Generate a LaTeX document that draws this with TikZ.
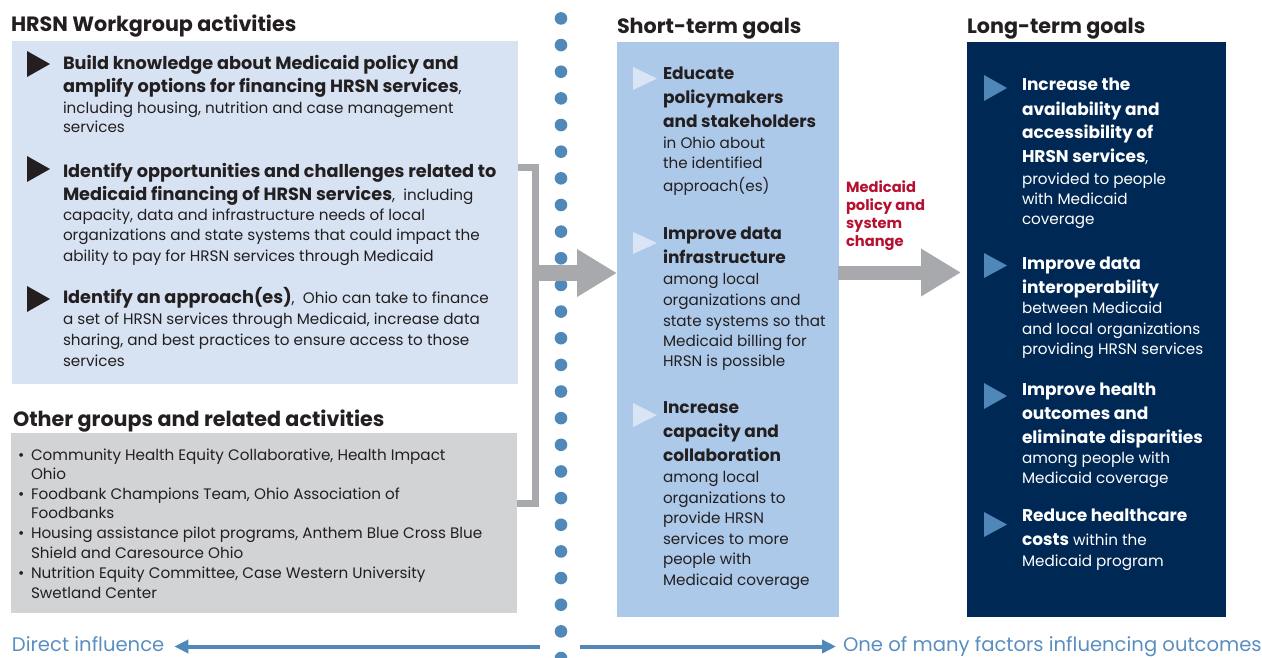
\documentclass[tikz,border=0pt]{standalone}
\usepackage{fontspec}
\setmainfont{Poppins}
\usetikzlibrary{arrows.meta}
\definecolor{ink}{RGB}{35,31,32}
\definecolor{hrsnbg}{RGB}{215,227,243}
\definecolor{othbg}{RGB}{209,211,212}
\definecolor{stbg}{RGB}{173,201,233}
\definecolor{sttri}{RGB}{217,228,244}
\definecolor{navy}{RGB}{0,40,85}
\definecolor{lttri}{RGB}{79,135,185}
\definecolor{dotc}{RGB}{79,136,185}
\definecolor{arrg}{RGB}{167,169,172}
\definecolor{redc}{RGB}{181,18,50}
\definecolor{botc}{RGB}{91,142,192}
\newcommand\rgf{\fontsize{15.2}{17}\selectfont\mdseries}
\newcommand\rg[1]{{\rgf #1}}
\begin{document}
\begin{tikzpicture}[x=1pt,y=-1pt,
  tl/.style={anchor=base west, inner sep=0pt, outer sep=0pt},
  rgl/.style={tl, font=\rgf},
  bdl/.style={tl, font=\fontsize{17}{20}\selectfont\bfseries},
  hbdl/.style={tl, font=\fontsize{17.7}{20}\selectfont\bfseries},
  ttl/.style={tl, font=\fontsize{20.7}{24}\selectfont\bfseries, text=ink},
  redl/.style={tl, font=\fontsize{14.7}{17}\selectfont\bfseries, text=redc},
  botl/.style={tl, font=\fontsize{19.6}{22}\selectfont, text=botc},
  panel/.style={anchor=north west, inner sep=0pt, outer sep=0pt, draw=none},
  bigarr/.style={draw=arrg, line width=16pt, -{Triangle[length=40pt 0 0, width=45pt 0 0]}},
  botarr/.style={draw=dotc, line width=4pt, -{Triangle[length=14pt 0 0, width=13pt 0 0]}},
  bracket/.style={draw=arrg, line width=7pt},
]
\useasboundingbox (0,0) rectangle (1262,657);

% panels
\node[panel, fill=hrsnbg, minimum width=506pt, minimum height=343pt] (hrsn) at (12,41) {};
\node[panel, fill=othbg, minimum width=506pt, minimum height=180pt] (oth) at (11,433) {};
\node[panel, fill=stbg, minimum width=222pt, minimum height=575pt] (st) at (617,42) {};
\node[panel, fill=navy, minimum width=259pt, minimum height=575pt] (lt) at (967,42) {};

% titles
\node[ttl] (t1) at (11,31.5) {HRSN Workgroup activities};
\node[ttl] (t2) at (13,426.5) {Other groups and related activities};
\node[ttl] (t3) at (617,33) {Short-term goals};
\node[ttl] (t4) at (967,33) {Long-term goals};

% dotted divider
\foreach \i in {0,...,24} \fill[dotc] (561,18.4+26.65*\i) circle (6.3);

% HRSN items
\fill[ink] (27,51) -- (50,64) -- (27,77) -- cycle;
\fill[ink] (27,156) -- (50,169) -- (27,182) -- cycle;
\fill[ink] (27,286) -- (50,299) -- (27,312) -- cycle;
\begin{scope}[text=ink]
\node[hbdl] (h1a) at (63,69) {Build knowledge about Medicaid policy and};
\node[hbdl] (h1b) at (63,92.5) {amplify options for financing HRSN services\rg{,}};
\node[rgl] (h1c) at (63,113) {including housing, nutrition and case management};
\node[rgl] (h1d) at (63,132.5) {services};
\node[hbdl] (h2a) at (63,177) {Identify opportunities and challenges related to};
\node[hbdl] (h2b) at (63,200) {Medicaid financing of HRSN services\rg{,~ including}};
\node[rgl] (h2c) at (63,220) {capacity, data and infrastructure needs of local};
\node[rgl] (h2d) at (63,240.5) {organizations and state systems that could impact the};
\node[rgl] (h2e) at (63,261) {ability to pay for HRSN services through Medicaid};
\node[hbdl] (h3a) at (63,303) {Identify an approach(es)\rg{,~ Ohio can take to finance}};
\node[rgl] (h3b) at (63,324.5) {a set of HRSN services through Medicaid, increase data};
\node[rgl] (h3c) at (63,345.5) {sharing, and best practices to ensure access to those};
\node[rgl] (h3d) at (63,366) {services};

% other groups
\foreach \n/\y in {b1/460,b2/499,b3/538.5,b4/578} \node[rgl] (\n) at (18,\y) {\textbullet};
\node[rgl] (o1) at (31,460) {Community Health Equity Collaborative, Health Impact};
\node[rgl] (o2) at (31,479) {Ohio};
\node[rgl] (o3) at (31,499) {Foodbank Champions Team, Ohio Association of};
\node[rgl] (o4) at (31,518.5) {Foodbanks};
\node[rgl] (o5) at (31,538.5) {Housing assistance pilot programs, Anthem Blue Cross Blue};
\node[rgl] (o6) at (31,558) {Shield and Caresource Ohio};
\node[rgl] (o7) at (31,578) {Nutrition Equity Committee, Case Western University};
\node[rgl] (o8) at (31,598) {Swetland Center};

% short-term
\node[bdl] (s1a) at (663,79) {Educate};
\node[bdl] (s1b) at (663,103) {policymakers};
\node[bdl] (s1c) at (663,127) {and stakeholders};
\node[rgl] (s1d) at (663,148) {in Ohio about};
\node[rgl] (s1e) at (663,168.5) {the identified};
\node[rgl] (s1f) at (663,191.5) {approach(es)};
\node[bdl] (s2a) at (663,239.5) {Improve data};
\node[bdl] (s2b) at (663,263.5) {infrastructure};
\node[rgl] (s2c) at (663,284) {among local};
\node[rgl] (s2d) at (663,305) {organizations and};
\node[rgl] (s2e) at (663,326) {state systems so that};
\node[rgl] (s2f) at (663,346.5) {Medicaid billing for};
\node[rgl] (s2g) at (663,366.5) {HRSN is possible};
\node[bdl] (s3a) at (663,413.5) {Increase};
\node[bdl] (s3b) at (663,437.5) {capacity and};
\node[bdl] (s3c) at (663,461.5) {collaboration};
\node[rgl] (s3d) at (663,482.5) {among local};
\node[rgl] (s3e) at (663,503) {organizations to};
\node[rgl] (s3f) at (663,523.5) {provide HRSN};
\node[rgl] (s3g) at (663,544) {services to more};
\node[rgl] (s3h) at (663,564.5) {people with};
\node[rgl] (s3i) at (663,585) {Medicaid coverage};
\end{scope}
\fill[sttri] (633,67) -- (657,78.5) -- (633,90) -- cycle;
\fill[sttri] (633,232) -- (657,243) -- (633,254) -- cycle;
\fill[sttri] (633,403) -- (657,415) -- (633,427) -- cycle;

% long-term
\fill[lttri] (984,75) -- (1007,88) -- (984,101) -- cycle;
\fill[lttri] (984,253) -- (1007,265.5) -- (984,278) -- cycle;
\fill[lttri] (984,383) -- (1007,396) -- (984,409) -- cycle;
\fill[lttri] (984,512) -- (1007,524.5) -- (984,537) -- cycle;
\begin{scope}[text=white]
\node[bdl] (l1a) at (1022,90.5) {Increase the};
\node[bdl] (l1b) at (1022,115) {availability and};
\node[bdl] (l1c) at (1022,138.5) {accessibility of};
\node[bdl] (l1d) at (1022,162.5) {HRSN services\rg{,}};
\node[rgl] (l1e) at (1022,184) {provided to people};
\node[rgl] (l1f) at (1022,204) {with Medicaid};
\node[rgl] (l1g) at (1022,224) {coverage};
\node[bdl] (l2a) at (1022,269.5) {Improve data};
\node[bdl] (l2b) at (1022,293) {interoperability};
\node[rgl] (l2c) at (1022,313.5) {between Medicaid};
\node[rgl] (l2d) at (1022,334) {and local organizations};
\node[rgl] (l2e) at (1022,354.5) {providing HRSN services};
\node[bdl] (l3a) at (1022,395) {Improve health};
\node[bdl] (l3b) at (1022,419) {outcomes and};
\node[bdl] (l3c) at (1022,443) {eliminate disparities};
\node[rgl] (l3d) at (1022,463) {among people with};
\node[rgl] (l3e) at (1022,483.5) {Medicaid coverage};
\node[bdl] (l4a) at (1022,521.5) {Reduce healthcare};
\node[bdl] (l4b) at (1022,545) {costs\rg{ within the}};
\node[rgl] (l4c) at (1022,566) {Medicaid program};
\end{scope}

% red label
\node[redl] (r1) at (846,192) {Medicaid};
\node[redl] (r2) at (846,210) {policy and};
\node[redl] (r3) at (846,228) {system};
\node[redl] (r4) at (846,246) {change};

% bracket and big arrows
\coordinate (bt) at (518,167.5);
\coordinate (bb) at (517,503.5);
\draw[bracket] (bt) -- (535,167.5) -- (535,503.5) -- (bb);
\coordinate (bm) at (531.5,273);
\draw[bigarr] (bm) -- (bm -| st.west);
\coordinate (m1) at (838,272.5);
\draw[bigarr, line width=14pt, shorten >=6pt] (m1) -- (m1 -| lt.west);

% bottom legend
\node[botl] (dinf) at (12,651.5) {Direct influence};
\node[botl] (ofm) at (843,651.5) {One of many factors influencing outcomes};
\coordinate (dl) at (540,646.5);
\coordinate (dr) at (580,646.5);
\draw[botarr, shorten >=10pt] (dl) -- (dl -| dinf.east);
\draw[botarr, shorten >=7pt] (dr) -- (dr -| ofm.west);
\end{tikzpicture}
\end{document}
